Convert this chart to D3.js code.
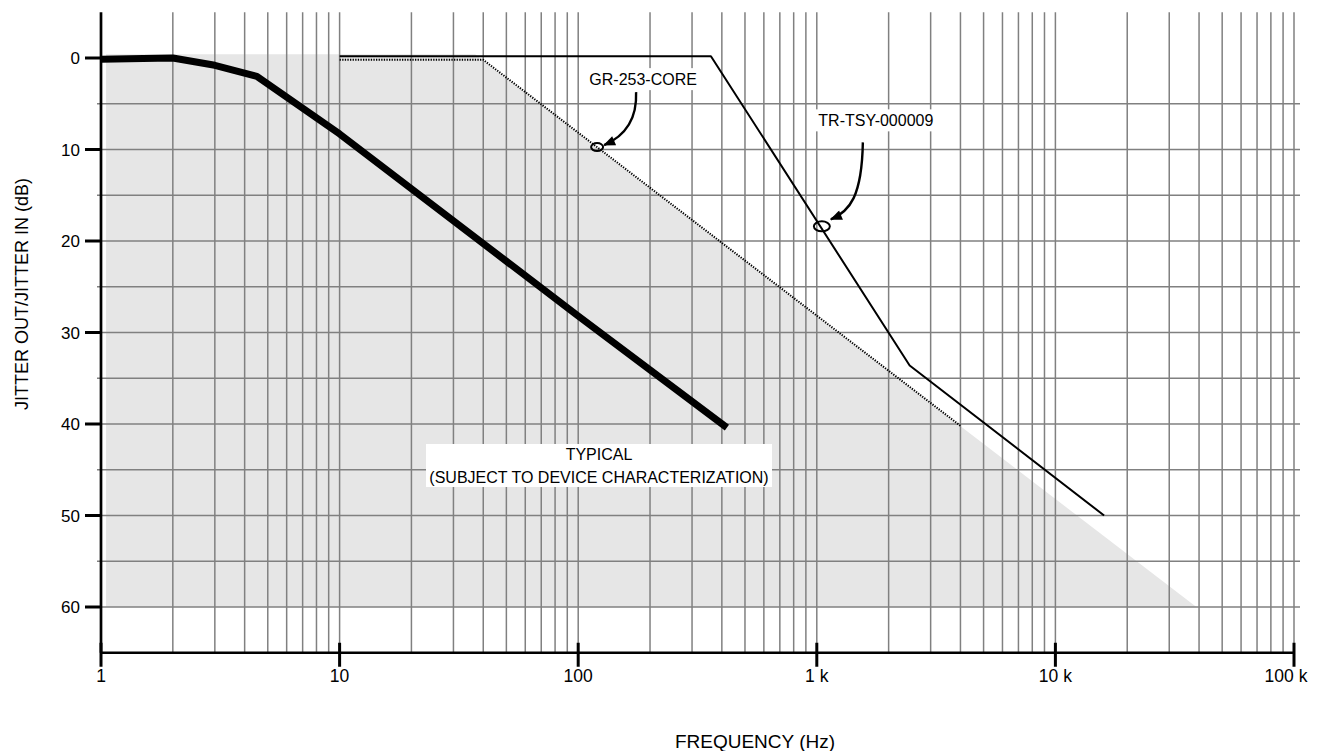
<!DOCTYPE html>
<html>
<head>
<meta charset="utf-8">
<script src="https://cdn.jsdelivr.net/npm/d3@7"></script>
<style>
  body { margin: 0; background: #ffffff; }
  text { font-family: "Liberation Sans", Arial, Helvetica, sans-serif; fill: #000000; }
</style>
</head>
<body>
<svg id="chart" width="1324" height="751"></svg>
<script>
// decade ticks on the frequency axis
var freqTicks = [1, 10, 100, 1000, 10000, 100000];
var freqLabels = ['1', '10', '100', '1 k', '10 k', '100 k'];
var dbTicks = [0, 10, 20, 30, 40, 50, 60];
var dbGrid = [5, 10, 15, 20, 25, 30, 35, 40, 45, 50, 55, 60];

// typical jitter transfer (thick curve)
var typicalFreq = [1, 1.5, 2, 3, 4.5, 10, 100, 420];
var typicalDb = [0.15, 0.05, 0, 0.8, 2.0, 8.3, 28.2, 40.4];

// GR-253-CORE mask (dotted)
var grFreq = [10, 40, 4000];
var grDb = [0.2, 0.2, 40.2];

// TR-TSY-000009 mask (solid)
var trFreq = [10, 360, 2450, 16000];
var trDb = [-0.2, -0.2, 33.6, 50];

// shaded region under the GR-253 mask
var areaFreq = [1.05, 37, 39000, 1.05];
var areaDb = [-0.4, -0.4, 60, 60];

// call-outs: point on the curve, label text
var callouts = [
  { name: 'GR-253-CORE', freq: 120, db: 9.74, rx: 6, ry: 4, dx: 46, dy: -68, w: 112, a0: [39, -55], a1: [40, -30], a2: [30, -12], tip: [7, -2] },
  { name: 'TR-TSY-000009', freq: 1050, db: 18.4, rx: 8, ry: 5, dx: 54, dy: -106, w: 120, a0: [41, -84], a1: [40, -30], a2: [28, -15], tip: [9, -7] }
];

var svg = d3.select('#chart');

var x = d3.scaleLog().domain([1, 100000]).range([101, 1294]);
var y = d3.scaleLinear().domain([-5, 65]).range([12.25, 652.75]);

function pts(f, v) { return f.map(function(d, i) { return [d, v[i]]; }); }

var line = d3.line()
  .x(function(d) { return x(d[0]); })
  .y(function(d) { return y(d[1]); });

// shaded area
svg.append('path')
   .attr('d', line(pts(areaFreq, areaDb)) + 'Z')
   .style('fill', '#e6e6e6')
   .style('stroke', 'none');

// grid: all 1..9 multiples of each decade
var minor = [];
freqTicks.slice(0, 5).forEach(function(dec) {
  for (var k = 2; k <= 10; k++) minor.push(dec * k);
});

svg.selectAll('.vgrid').data(minor).enter().append('line')
   .attr('class', 'vgrid')
   .attr('x1', function(d) { return x(d); })
   .attr('x2', function(d) { return x(d); })
   .attr('y1', y(-5))
   .attr('y2', y(65))
   .style('stroke', '#808080').style('stroke-width', 1.5);

svg.selectAll('.hgrid').data(dbGrid).enter().append('line')
   .attr('class', 'hgrid')
   .attr('x1', x(1) - 4)
   .attr('x2', x(100000) + 6)
   .attr('y1', function(d) { return y(d); })
   .attr('y2', function(d) { return y(d); })
   .style('stroke', '#808080').style('stroke-width', 1.5);

// masks and typical curve
svg.append('path')
   .attr('d', line(pts(grFreq, grDb)))
   .style('fill', 'none').style('stroke', '#000000')
   .style('stroke-width', 2).style('stroke-dasharray', '1.3,1.3');

svg.append('path')
   .attr('d', line(pts(trFreq, trDb)))
   .style('fill', 'none').style('stroke', '#000000')
   .style('stroke-width', 2).style('stroke-linejoin', 'round');

svg.append('path')
   .attr('d', line(pts(typicalFreq, typicalDb)))
   .style('fill', 'none').style('stroke', '#000000')
   .style('stroke-width', 7).style('stroke-linejoin', 'round').style('stroke-linecap', 'butt');

// typical label
var tl = svg.append('g').attr('transform', 'translate(599,0)');
tl.append('rect').attr('x', -173).attr('y', 444).attr('width', 346).attr('height', 43).style('fill', '#ffffff');
tl.append('text').attr('y', 460).attr('text-anchor', 'middle').style('font-size', '16px').text('TYPICAL');
tl.append('text').attr('y', 483).attr('text-anchor', 'middle').style('font-size', '16px').text('(SUBJECT TO DEVICE CHARACTERIZATION)');

// arrowhead
svg.append('defs').append('marker')
   .attr('id', 'arrow')
   .attr('viewBox', '0 0 12 10')
   .attr('refX', 11).attr('refY', 5)
   .attr('markerWidth', 13).attr('markerHeight', 10)
   .attr('markerUnits', 'userSpaceOnUse')
   .attr('orient', 'auto')
   .append('path').attr('d', 'M0,0 L12,5 L0,10 Z').style('fill', '#000000');

var co = svg.selectAll('.callout').data(callouts).enter().append('g')
   .attr('class', 'callout')
   .attr('transform', function(d) { return 'translate(' + x(d.freq) + ',' + y(d.db) + ')'; });

co.append('ellipse')
  .attr('rx', function(d) { return d.rx; })
  .attr('ry', function(d) { return d.ry; })
  .style('fill', 'none').style('stroke', '#000000').style('stroke-width', 2);

co.append('path')
  .attr('d', function(d) {
    return 'M' + d.a0 + ' C' + d.a1 + ' ' + d.a2 + ' ' + d.tip;
  })
  .style('fill', 'none').style('stroke', '#000000').style('stroke-width', 2.4)
  .attr('marker-end', 'url(#arrow)');

co.append('rect')
  .attr('x', function(d) { return d.dx - d.w / 2; })
  .attr('y', function(d) { return d.dy - 11; })
  .attr('width', function(d) { return d.w; })
  .attr('height', 22)
  .style('fill', '#ffffff');

co.append('text')
  .attr('x', function(d) { return d.dx; })
  .attr('y', function(d) { return d.dy + 6; })
  .attr('text-anchor', 'middle')
  .style('font-size', '16px')
  .text(function(d) { return d.name; });

// axes
svg.append('line').attr('x1', x(1)).attr('x2', x(1)).attr('y1', y(-5)).attr('y2', y(65))
   .style('stroke', '#000000').style('stroke-width', 2.7);
svg.append('line').attr('x1', x(1)).attr('x2', x(100000)).attr('y1', y(65)).attr('y2', y(65))
   .style('stroke', '#000000').style('stroke-width', 2.7);

svg.selectAll('.ytick').data(dbTicks).enter().append('line')
   .attr('class', 'ytick')
   .attr('x1', x(1) - 16).attr('x2', x(1))
   .attr('y1', function(d) { return y(d); }).attr('y2', function(d) { return y(d); })
   .style('stroke', '#000000').style('stroke-width', 3);

svg.selectAll('.ylab').data(dbTicks).enter().append('text')
   .attr('class', 'ylab')
   .attr('x', x(1) - 21)
   .attr('y', function(d) { return y(d) + 6; })
   .attr('text-anchor', 'end')
   .style('font-size', '17px')
   .text(function(d) { return d; });

svg.selectAll('.xtick').data(freqTicks).enter().append('line')
   .attr('class', 'xtick')
   .attr('x1', function(d) { return x(d); }).attr('x2', function(d) { return x(d); })
   .attr('y1', y(65) - 10).attr('y2', y(65) + 14)
   .style('stroke', '#000000').style('stroke-width', 3);

svg.selectAll('.xlab').data(freqTicks).enter().append('text')
   .attr('class', 'xlab')
   .attr('x', function(d) { return x(d); })
   .attr('dx', function(d, i) { return i === freqTicks.length - 1 ? -8 : 0; })
   .attr('y', 682)
   .attr('text-anchor', 'middle')
   .style('font-size', '17.5px')
   .text(function(d, i) { return freqLabels[i]; });

svg.append('text')
   .attr('x', 755).attr('y', 748)
   .attr('text-anchor', 'middle')
   .style('font-size', '19px')
   .text('FREQUENCY (Hz)');

svg.append('text')
   .attr('transform', 'translate(28,' + 294 + ') rotate(-90)')
   .attr('text-anchor', 'middle')
   .style('font-size', '18px')
   .text('JITTER OUT/JITTER IN (dB)');
</script>
</body>
</html>
